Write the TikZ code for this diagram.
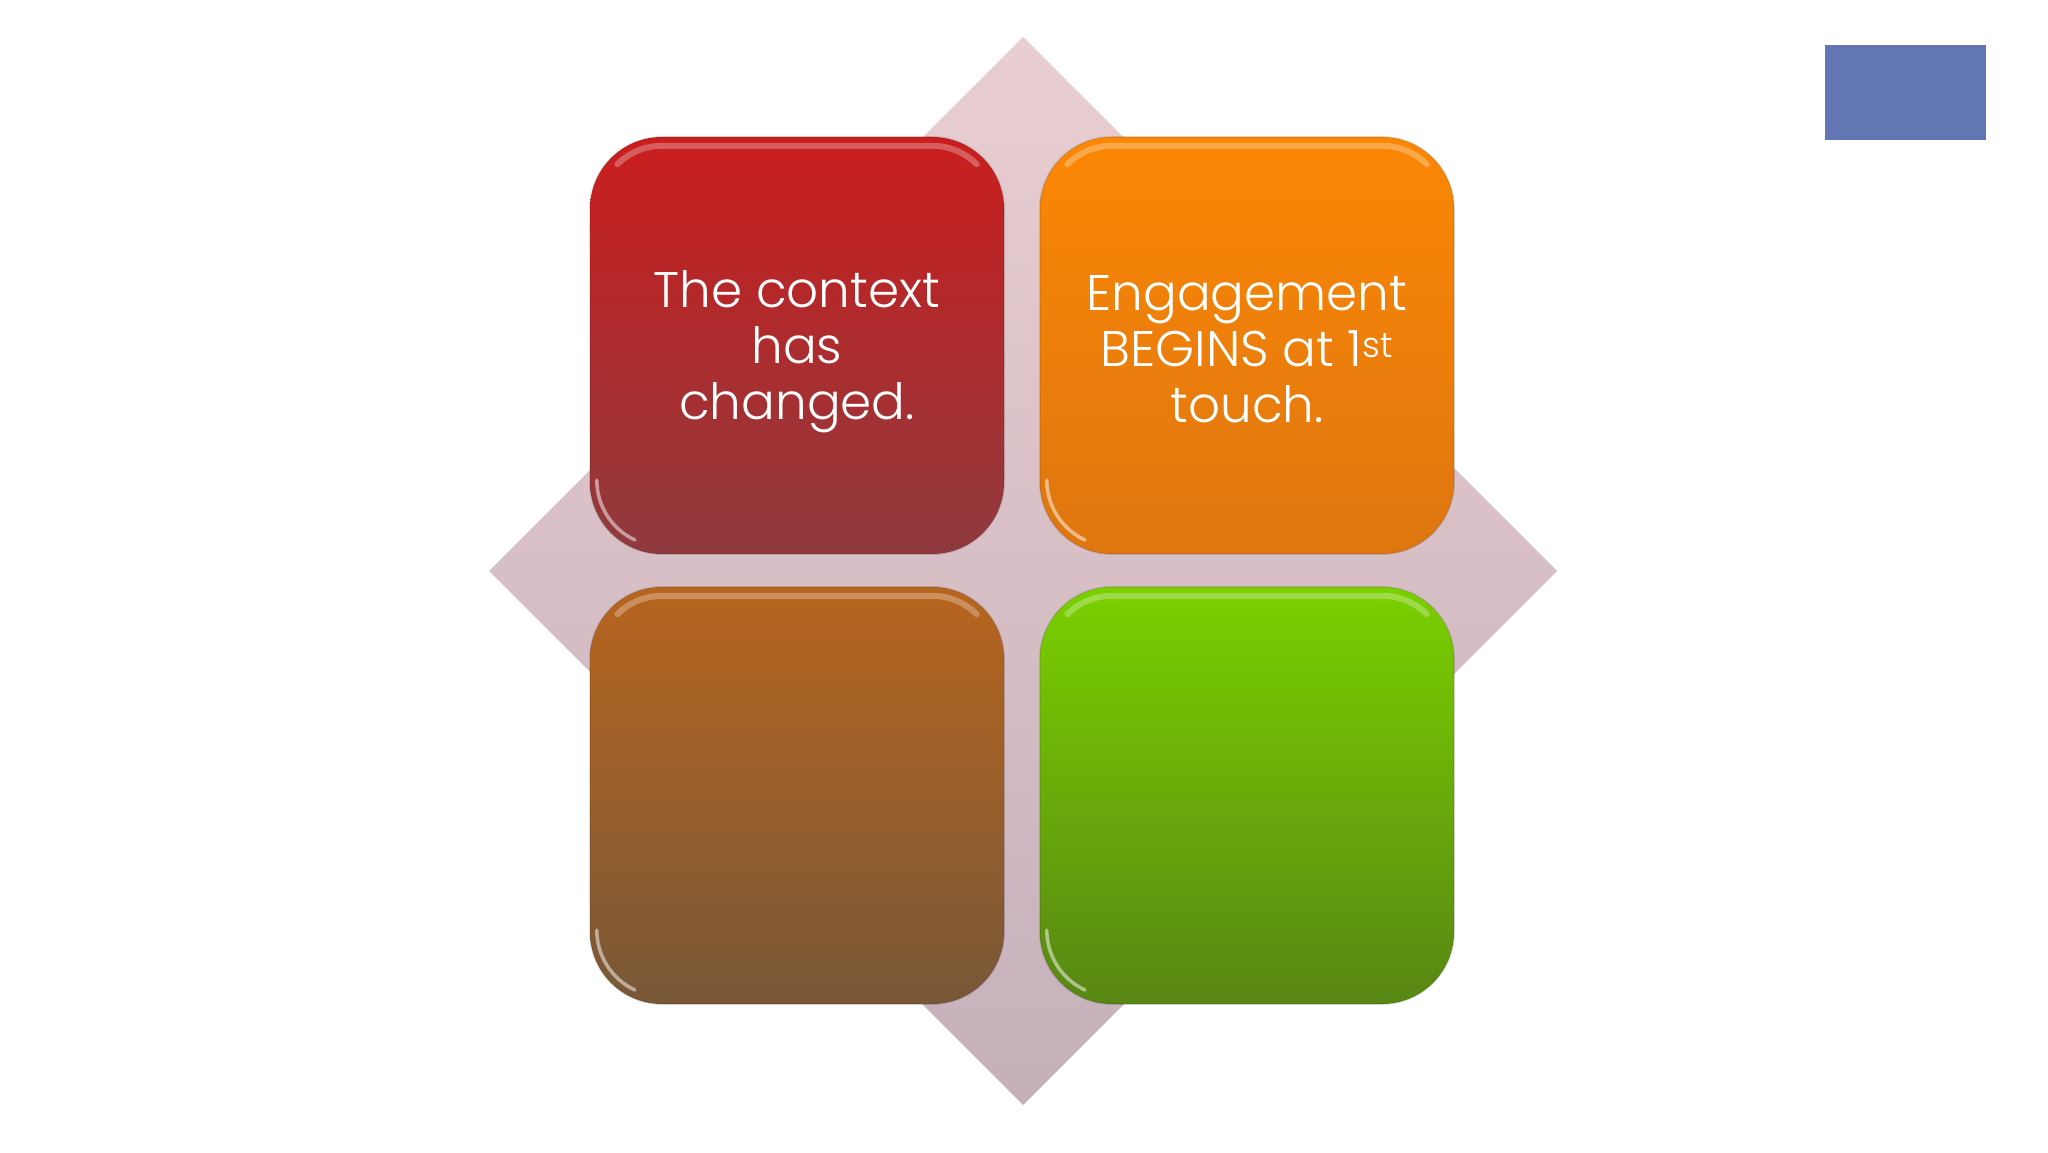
\documentclass[tikz,border=0pt]{standalone}
\usepackage{fontspec}
\setmainfont{Poppins Light}
\definecolor{diamtop}{RGB}{233,206,209}
\definecolor{diambot}{RGB}{197,176,186}
\definecolor{redtop}{RGB}{202,30,30}
\definecolor{redmid}{RGB}{182,52,54}
\definecolor{redbot}{RGB}{143,58,62}
\definecolor{ortop}{RGB}{251,135,5}
\definecolor{ormid}{RGB}{246,132,8}
\definecolor{orbot}{RGB}{222,118,16}
\definecolor{brtop}{RGB}{184,101,30}
\definecolor{brmid}{RGB}{160,104,50}
\definecolor{brbot}{RGB}{120,88,56}
\definecolor{grtop}{RGB}{122,208,0}
\definecolor{grmid}{RGB}{108,176,4}
\definecolor{grbot}{RGB}{88,134,20}
\definecolor{bluebox}{RGB}{97,118,178}
\tikzset{
  tile/.style={rectangle, rounded corners=72pt, minimum width=414pt,
    minimum height=417pt, inner sep=0pt},
  tiletext/.style={text=white, align=center, inner sep=0pt,
    font=\fontsize{50}{56}\selectfont},
  sheen/.style={white, opacity=0.28, line width=6pt, line cap=round},
}
\begin{document}
\begin{tikzpicture}[x=1pt,y=1pt]
\useasboundingbox (0,0) rectangle (2048,1152);
\fill[white] (0,0) rectangle (2048,1152);
% diamond backdrop
\shade[top color=diamtop, bottom color=diambot]
  (1023,1115) -- (1557,581) -- (1023,47) -- (489,581) -- cycle;
% blue rectangle
\node[rectangle, fill=bluebox, minimum width=161pt, minimum height=95pt, inner sep=0pt]
  (blue) at (1905.5,1059.5) {};
% tiles
\node[tile, top color=redtop, middle color=redmid, bottom color=redbot]
  (red) at (797,806.5) {};
\node[tile, top color=ortop, middle color=ormid, bottom color=orbot]
  (orange) at (1247,806.5) {};
\node[tile, top color=brtop, middle color=brmid, bottom color=brbot]
  (brown) at (797,356.5) {};
\node[tile, top color=grtop, middle color=grmid, bottom color=grbot]
  (green) at (1247,356.5) {};
% glossy highlights
\foreach \n in {red,orange,brown,green}{
  \draw[sheen] ([xshift=27.5pt,yshift=-27.5pt]\n.north west)
     arc[start angle=135, end angle=90, radius=63pt]
     -- ([xshift=-72pt,yshift=-9pt]\n.north east)
     arc[start angle=90, end angle=45, radius=63pt];
  \draw[sheen, opacity=0.5, line width=3.5pt] ([xshift=7pt,yshift=74pt]\n.south west)
     arc[start angle=180, end angle=245, radius=66pt];
  \draw[black, opacity=0.12, line width=1.5pt, rounded corners=72pt]
     (\n.north west) rectangle (\n.south east);
}
% texts
\node[tiletext] (redtext) at ([yshift=-6pt]red.center) {The context\\has\\changed.};
\node[tiletext] (orangetext) at ([yshift=-4pt]orange.center) {Engagement\\BEGINS at 1\textsuperscript{st}\\touch.};
\end{tikzpicture}
\end{document}
